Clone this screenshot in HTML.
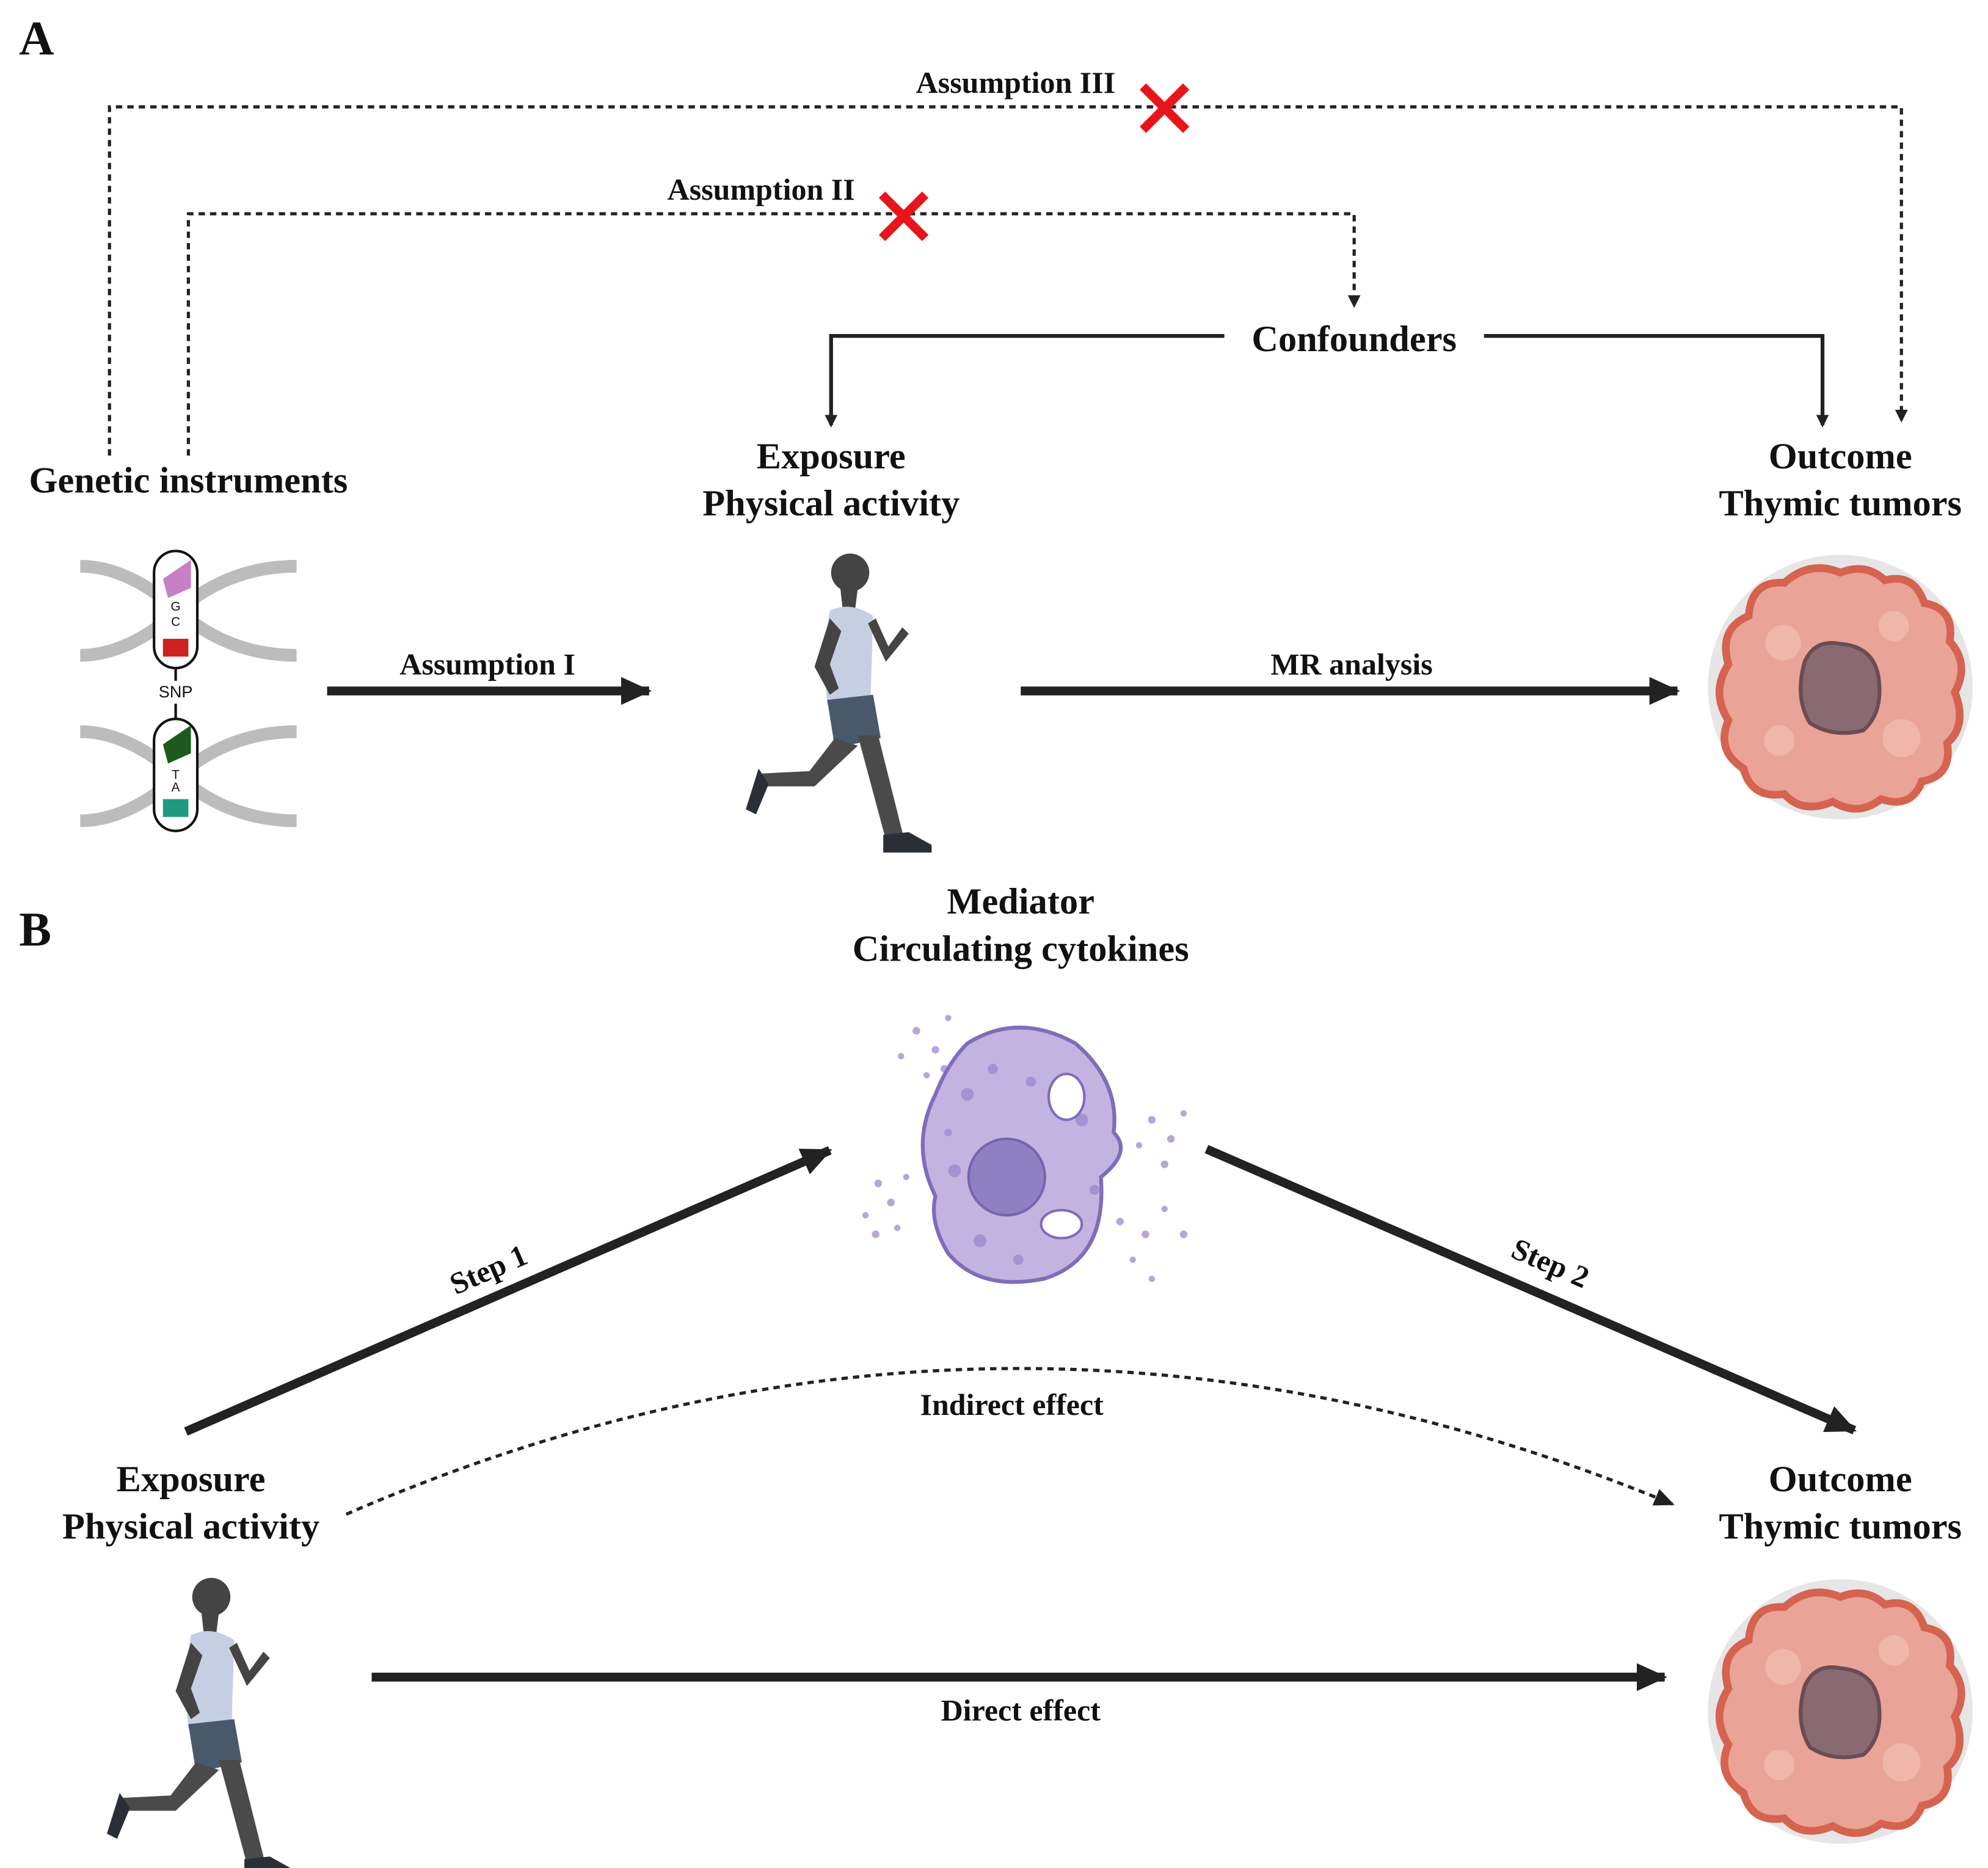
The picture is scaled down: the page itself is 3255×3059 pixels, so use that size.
<!DOCTYPE html>
<html><head><meta charset="utf-8"><style>
html,body{margin:0;padding:0;background:#fff}
svg{display:block}
text{font-family:"Liberation Serif",serif;font-weight:bold;fill:#111}
</style></head><body>
<svg width="3255" height="3059" viewBox="0 0 1562 1468" xmlns="http://www.w3.org/2000/svg">
<defs>
<marker id="ah" markerWidth="10" markerHeight="10" refX="8" refY="5" orient="auto" markerUnits="userSpaceOnUse"><path d="M0,0 L10,5 L0,10 z" fill="#222"/></marker>
<marker id="big" markerWidth="24" markerHeight="22" refX="22" refY="11" orient="auto" markerUnits="userSpaceOnUse"><path d="M0,0 L24,11 L0,22 z" fill="#222"/></marker>
<marker id="sm" markerWidth="16" markerHeight="14" refX="14" refY="7" orient="auto" markerUnits="userSpaceOnUse"><path d="M0,0 L16,7 L0,14 z" fill="#222"/></marker>
<g id="runner">
<circle cx="0" cy="0" r="15" fill="#444"/>
<path d="M-8,10 L6,12 L4,28 L-6,28 z" fill="#444"/>
<path d="M-16,30 Q0,22 18,34 L16,100 L-18,104 Q-22,60 -16,30 z" fill="#c5cfe3"/>
<path d="M-16,36 L-28,74 L-16,96 L-9,91 L-16,72 L-7,46 z" fill="#444"/>
<path d="M14,40 L28,70 L46,48 L41,43 L30,58 L20,36 z" fill="#444"/>
<path d="M-18,100 L18,96 L24,130 L-12,138 z" fill="#4a586c"/>
<path d="M-12,130 L-32,156 L-72,158 L-72,168 L-28,168 L6,136 z" fill="#4a4a4a"/>
<path d="M6,128 L22,128 L42,208 L28,210 z" fill="#4a4a4a"/>
<path d="M-72,154 L-82,186 L-74,190 L-64,166 z" fill="#2a2e36"/>
<path d="M26,206 L46,204 L64,214 L64,220 L26,220 z" fill="#2a2e36"/>
</g>
<g id="tumor">
<circle cx="0" cy="0" r="104" fill="#e6e6e6"/>
<path d="M0,-90 Q20,-98 35,-84 Q58,-90 66,-66 Q90,-62 86,-36 Q102,-18 90,4 Q100,30 84,44 Q88,70 64,74 Q56,96 32,88 Q14,102 -6,90 Q-30,100 -44,84 Q-70,88 -76,64 Q-98,50 -88,26 Q-102,4 -88,-18 Q-96,-46 -72,-56 Q-70,-84 -44,-82 Q-24,-100 0,-90 z" fill="#e9a397" stroke="#d66250" stroke-width="6"/>
<circle cx="-45" cy="-35" r="14" fill="#f0b6aa"/><circle cx="48" cy="40" r="15" fill="#f0b6aa"/><circle cx="-48" cy="42" r="12" fill="#f0b6aa"/><circle cx="42" cy="-48" r="12" fill="#f0b6aa"/>
<path d="M-28,-20 Q-20,-38 0,-34 Q26,-32 30,-8 Q34,20 18,34 Q-6,40 -24,28 Q-36,8 -28,-20 z" fill="#8a6a72" stroke="#6a4c55" stroke-width="3"/>
</g>
</defs>

<text x="15" y="43" font-size="38">A</text>
<text x="15" y="743" font-size="38">B</text>

<g fill="none" stroke="#222" stroke-width="2.5" stroke-dasharray="5,4">
<path d="M86,358 V84 H1494 V330" marker-end="url(#ah)"/>
<path d="M148,358 V168 H1064 V240" marker-end="url(#ah)"/>
</g>
<text x="798" y="73" font-size="24" text-anchor="middle">Assumption III</text>
<text x="598" y="157" font-size="24" text-anchor="middle">Assumption II</text>
<g stroke="#e8141c" stroke-width="7">
<path d="M898,68 L932,102 M932,68 L898,102"/>
<path d="M693,153 L727,187 M727,153 L693,187"/>
</g>
<text x="1064" y="276" font-size="29" text-anchor="middle">Confounders</text>
<g fill="none" stroke="#222" stroke-width="3">
<path d="M962,264 H653 V334" marker-end="url(#ah)"/>
<path d="M1166,264 H1432 V334" marker-end="url(#ah)"/>
</g>
<text x="148" y="387" font-size="29" text-anchor="middle">Genetic instruments</text>
<text x="653" y="368" font-size="29" text-anchor="middle">Exposure</text>
<text x="653" y="405" font-size="29" text-anchor="middle">Physical activity</text>
<text x="1446" y="368" font-size="29" text-anchor="middle">Outcome</text>
<text x="1446" y="405" font-size="29" text-anchor="middle">Thymic tumors</text>

<g fill="none" stroke="#bcbcbc" stroke-width="10">
<path d="M63,445 Q100,445 140,480 Q180,515 233,515"/><path d="M63,515 Q100,515 140,480 Q180,445 233,445"/>
<path d="M63,575 Q100,575 140,610 Q180,645 233,645"/><path d="M63,645 Q100,645 140,610 Q180,575 233,575"/>
</g>
<rect x="121" y="433" width="34" height="92" rx="17" fill="#fff" stroke="#111" stroke-width="2"/>
<path d="M128,455 L150,440 L150,462 L132,470 z" fill="#c77fc6"/>
<rect x="128" y="502" width="20" height="14" fill="#c22"/>
<text x="138" y="480" font-size="10" style="font-family:'Liberation Sans';font-weight:normal" text-anchor="middle">G</text>
<text x="138" y="492" font-size="10" style="font-family:'Liberation Sans';font-weight:normal" text-anchor="middle">C</text>
<line x1="138" y1="525" x2="138" y2="535" stroke="#111" stroke-width="2"/>
<text x="138" y="548" font-size="13" style="font-family:'Liberation Sans';font-weight:normal" text-anchor="middle">SNP</text>
<line x1="138" y1="553" x2="138" y2="565" stroke="#111" stroke-width="2"/>
<rect x="121" y="565" width="34" height="88" rx="17" fill="#fff" stroke="#111" stroke-width="2"/>
<path d="M128,585 L150,570 L150,592 L132,600 z" fill="#1e5a1e"/>
<rect x="128" y="628" width="20" height="14" fill="#1e9a80"/>
<text x="138" y="612" font-size="10" style="font-family:'Liberation Sans';font-weight:normal" text-anchor="middle">T</text>
<text x="138" y="622" font-size="10" style="font-family:'Liberation Sans';font-weight:normal" text-anchor="middle">A</text>

<line x1="257" y1="543" x2="510" y2="543" stroke="#222" stroke-width="7" marker-end="url(#big)"/>
<text x="383" y="530" font-size="24" text-anchor="middle">Assumption I</text>
<use href="#runner" transform="translate(668,450)"/>
<line x1="802" y1="543" x2="1318" y2="543" stroke="#222" stroke-width="7" marker-end="url(#big)"/>
<text x="1062" y="530" font-size="24" text-anchor="middle">MR analysis</text>
<use href="#tumor" transform="translate(1446,540)"/>

<text x="802" y="718" font-size="29" text-anchor="middle">Mediator</text>
<text x="802" y="755" font-size="29" text-anchor="middle">Circulating cytokines</text>
<g>
<g fill="#b8a6d8">
<circle cx="720" cy="810" r="3"/><circle cx="735" cy="825" r="3"/><circle cx="745" cy="800" r="2.5"/><circle cx="708" cy="830" r="2.5"/><circle cx="742" cy="840" r="3"/><circle cx="728" cy="845" r="2.5"/>
<circle cx="690" cy="930" r="3"/><circle cx="700" cy="945" r="3"/><circle cx="680" cy="955" r="2.5"/><circle cx="712" cy="925" r="2.5"/><circle cx="688" cy="970" r="3"/><circle cx="705" cy="965" r="2.5"/>
<circle cx="905" cy="880" r="3"/><circle cx="920" cy="895" r="3"/><circle cx="930" cy="875" r="2.5"/><circle cx="895" cy="900" r="2.5"/><circle cx="915" cy="915" r="3"/>
<circle cx="880" cy="960" r="3"/><circle cx="900" cy="970" r="3"/><circle cx="890" cy="990" r="2.5"/><circle cx="915" cy="950" r="2.5"/><circle cx="930" cy="970" r="3"/><circle cx="905" cy="1005" r="2.5"/>
</g>
<path d="M760,820 Q800,795 845,820 Q880,850 875,890 Q890,905 865,925 Q870,990 820,1005 Q770,1015 745,985 Q730,960 735,940 Q715,900 735,860 Q745,835 760,820 z" fill="#c2b3e0" stroke="#7f6cba" stroke-width="3"/>
<g fill="#a592d2"><circle cx="760" cy="860" r="5"/><circle cx="780" cy="840" r="4"/><circle cx="850" cy="880" r="5"/><circle cx="750" cy="920" r="5"/><circle cx="770" cy="975" r="5"/><circle cx="830" cy="970" r="4"/><circle cx="860" cy="935" r="4"/><circle cx="800" cy="990" r="4"/><circle cx="810" cy="850" r="4"/><circle cx="745" cy="890" r="3"/></g>
<circle cx="791" cy="925" r="30" fill="#8f80c3" stroke="#7565b0" stroke-width="2"/>
<ellipse cx="838" cy="862" rx="14" ry="18" fill="#fff" stroke="#7f6cba" stroke-width="2"/>
<ellipse cx="834" cy="962" rx="16" ry="11" fill="#fff" stroke="#7f6cba" stroke-width="2"/>
</g>
<line x1="146" y1="1125" x2="652" y2="904" stroke="#222" stroke-width="7" marker-end="url(#big)"/>
<text x="0" y="0" font-size="24" text-anchor="middle" transform="translate(387,1005) rotate(-23.6)">Step 1</text>
<line x1="948" y1="903" x2="1457" y2="1124" stroke="#222" stroke-width="7" marker-end="url(#big)"/>
<text x="0" y="0" font-size="24" text-anchor="middle" transform="translate(1215,1000) rotate(23.5)">Step 2</text>
<path d="M272,1190 Q790,965 1314,1182" fill="none" stroke="#222" stroke-width="2.5" stroke-dasharray="5,4" marker-end="url(#sm)"/>
<text x="795" y="1112" font-size="24" text-anchor="middle">Indirect effect</text>
<text x="150" y="1172" font-size="29" text-anchor="middle">Exposure</text>
<text x="150" y="1209" font-size="29" text-anchor="middle">Physical activity</text>
<text x="1446" y="1172" font-size="29" text-anchor="middle">Outcome</text>
<text x="1446" y="1209" font-size="29" text-anchor="middle">Thymic tumors</text>
<use href="#runner" transform="translate(166,1255)"/>
<line x1="292" y1="1318" x2="1308" y2="1318" stroke="#222" stroke-width="7" marker-end="url(#big)"/>
<text x="802" y="1352" font-size="24" text-anchor="middle">Direct effect</text>
<use href="#tumor" transform="translate(1446,1345)"/>
</svg>
</body></html>
